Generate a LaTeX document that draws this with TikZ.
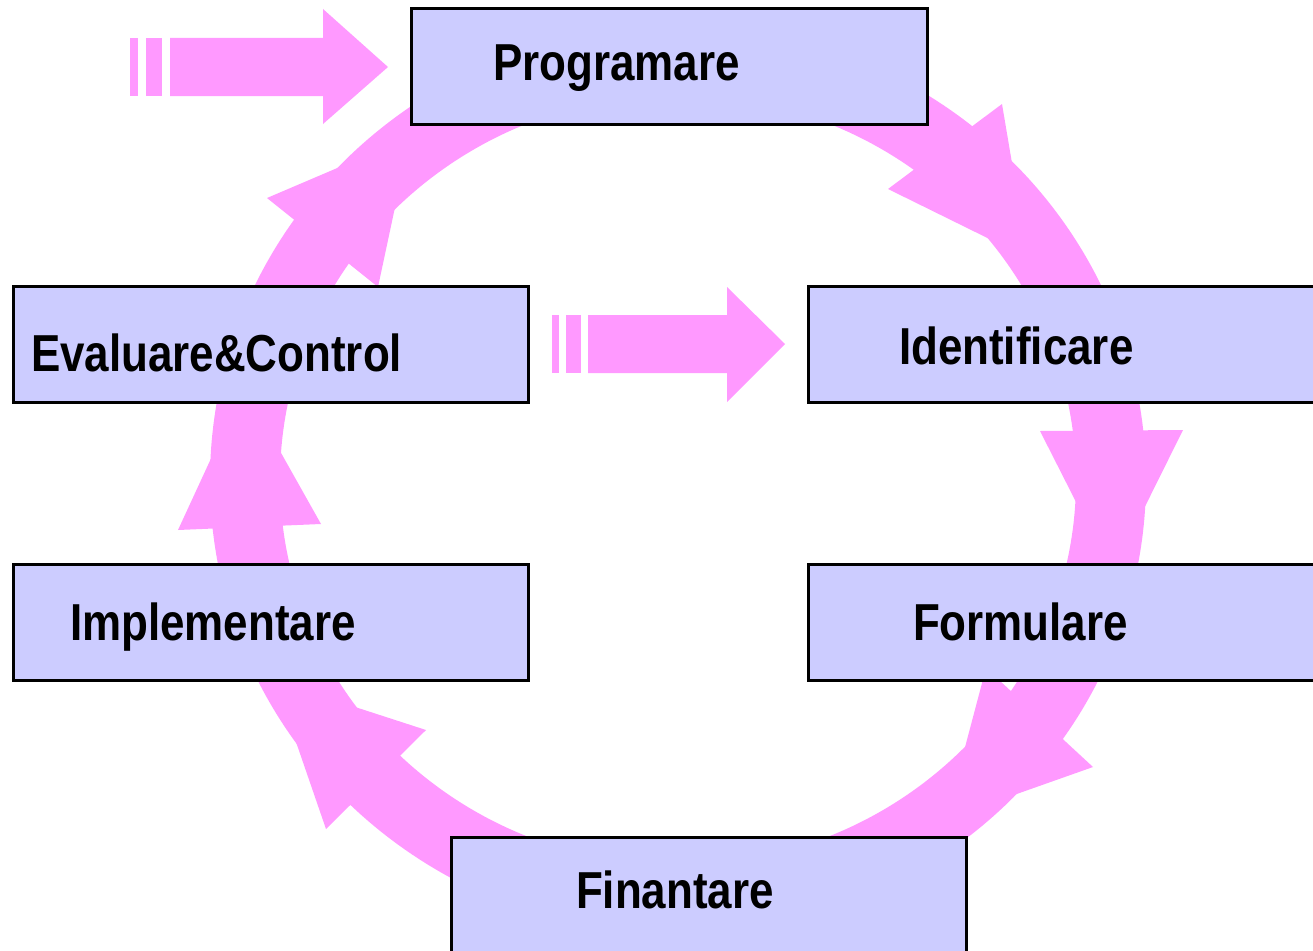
\documentclass[tikz,border=0pt]{standalone}
\usepackage{fontspec}
\newfontfamily\labelfont[FakeStretch=0.845]{Liberation Sans}
\definecolor{ringpink}{RGB}{255,153,255}
\definecolor{boxfill}{RGB}{204,204,255}
\begin{document}
\begin{tikzpicture}[x=1pt,y=-1pt,
  stage/.style={draw=black, line width=3pt, fill=boxfill, inner sep=0pt, outer sep=0pt,
    minimum width=515.5pt, minimum height=116pt, anchor=north west},
  stagetext/.style={font=\labelfont\bfseries\fontsize{52pt}{60pt}\selectfont,
    inner sep=0pt, outer sep=0pt, anchor=base west},
  flow/.style={fill=ringpink}]
\useasboundingbox (0,0) rectangle (1313,950);
\clip (0,0) rectangle (1313,950);

% circular band of the cycle
\fill[flow, even odd rule]
  (678,480) ellipse [x radius=468pt, y radius=455pt]
  (678,480) ellipse [x radius=398pt, y radius=385pt];

% arrowheads along the cycle (clockwise)
\fill[flow] (888,189) -- (1002,104) -- (1028,258) -- cycle;
\fill[flow] (1040,431) -- (1183,430) -- (1112,573) -- cycle;
\fill[flow] (986,668) -- (1093,767) -- (946,819) -- cycle;
\fill[flow] (426,730) -- (326,829) -- (275,681) -- cycle;
\fill[flow] (321,524) -- (178,530) -- (244,387) -- cycle;
\fill[flow] (378,287) -- (267,198) -- (410,137) -- cycle;

% entry arrow into the cycle
\fill[flow] (130,38) rectangle (138,96);
\fill[flow] (146,38) rectangle (162,96);
\fill[flow] (170,38) -- (323,38) -- (323,9) -- (388,67) -- (323,124) -- (323,96) -- (170,96) -- cycle;

% feedback arrow across the middle
\fill[flow] (552,315) rectangle (559,373);
\fill[flow] (566,315) rectangle (581,373);
\fill[flow] (588,315) -- (727,315) -- (727,287) -- (785,344) -- (727,402) -- (727,373) -- (588,373) -- cycle;

% stages
\node[stage] (prog) at (411.5,8.5) {};
\node[stage] (iden) at (808.5,286.5) {};
\node[stage] (form) at (808.5,564.5) {};
\node[stage] (fin)  at (451,837) {};
\node[stage] (impl) at (13,564.5) {};
\node[stage] (eval) at (13,286.5) {};

\node[stagetext] (prog-t) at (493,81) {Programare};
\node[stagetext] (iden-t) at (899,364) {Identificare};
\node[stagetext] (form-t) at (913,640) {Formulare};
\node[stagetext] (fin-t)  at (576,908) {Finantare};
\node[stagetext] (impl-t) at (70,640) {Implementare};
\node[stagetext] (eval-t) at (31,371) {Evaluare\&Control};
\end{tikzpicture}
\end{document}
